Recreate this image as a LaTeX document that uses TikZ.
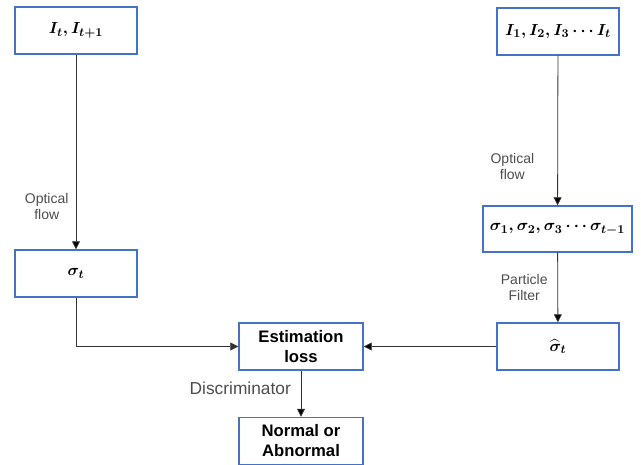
\documentclass[tikz,border=0pt]{standalone}
\usepackage{amssymb,amsmath}
\usepackage{fontspec}
\setmainfont{Liberation Sans}
\usepackage{tikz}
\usetikzlibrary{arrows.meta}

\definecolor{boxblue}{HTML}{4472C4}
\definecolor{labelgrey}{HTML}{4D4D4D}
\tikzset{
    stagebox/.style={draw=boxblue, line width=1.1pt, minimum width=91.5pt, minimum height=35.25pt,
        inner sep=2pt, align=center, font=\fontsize{12.5}{16}\selectfont\bfseries\boldmath},
    flowlabel/.style={text=labelgrey, align=center, font=\fontsize{10.5}{12.5}\selectfont},
    flowarrow/.style={-{Triangle[length=6pt,width=6pt]}, line width=0.6pt, draw=black!80},
}

\begin{document}
\begin{tikzpicture}[x=0.75pt, y=-0.75pt]
    \useasboundingbox (0,0) rectangle (641,464);
    \node[stagebox] at (76,30.5) (Pair) {$I_t, I_{t+1}$};
    \node[stagebox] at (558,31.5) (Seq) {$I_1, I_2, I_3 \cdots I_t$};
    \node[stagebox] at (76,273.5) (Sig) {$\sigma_t$};
    \node[stagebox, minimum width=111.75pt, minimum height=34.5pt] at (557.5,229) (SigSeq) {$\sigma_1, \sigma_2, \sigma_3 \cdots \sigma_{t-1}$};
    \node[stagebox] at (558,346.5) (SigHat) {$\widehat{\sigma}_t$};
    \node[stagebox, minimum width=93pt] at (301,346.5) (Loss) {Estimation\\[-1pt] loss};
    \node[stagebox, minimum width=93pt] at (301,441) (Out) {Normal or\\[-1pt] Abnormal};
    \path [flowarrow] (Pair) edge node[flowlabel, pos=0.78, left=2pt] {Optical\\flow} (Sig);
    \path [flowarrow] (Seq) edge node[flowlabel, pos=0.74, left=14pt] {Optical\\flow} (SigSeq);
    \path [flowarrow] (SigSeq) edge node[flowlabel, pos=0.5, left=4pt] {Particle\\Filter} (SigHat);
    \draw [flowarrow] (Sig.south) |- (Loss.west);
    \path [flowarrow] (SigHat) edge (Loss);
    \path [flowarrow] (Loss) edge node[flowlabel, font=\fontsize{13}{15}\selectfont, pos=0.38, left=4pt] {Discriminator} (Out);
\end{tikzpicture}
\end{document}
